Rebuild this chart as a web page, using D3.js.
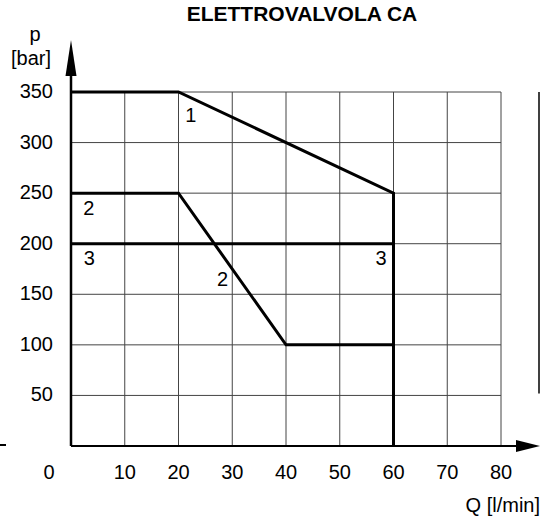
<!DOCTYPE html>
<html>
<head>
<meta charset="utf-8">
<script src="https://cdn.jsdelivr.net/npm/d3@7"></script>
<style>
  body { margin: 0; background: #fff; }
  text { font-family: "Liberation Sans", Arial, sans-serif; fill: #000; }
</style>
</head>
<body>
<svg id="chart" width="540" height="519"></svg>
<script>
// chart values
const xTicks = [10, 20, 30, 40, 50, 60, 70, 80]
const yTicks = [50, 100, 150, 200, 250, 300, 350]
const curve1 = [{q: 0, p: 350}, {q: 20, p: 350}, {q: 60, p: 250}, {q: 60, p: 0}]
const curve2 = [{q: 0, p: 250}, {q: 20, p: 250}, {q: 40, p: 100}, {q: 60, p: 100}]
const curve3 = [{q: 0, p: 200}, {q: 60, p: 200}, {q: 60, p: 0}]
const curveLabels = [
  {t: "1", q: 22.3, p: 320},
  {t: "2", q: 3.3, p: 228},
  {t: "3", q: 3.4, p: 179},
  {t: "2", q: 28.2, p: 158},
  {t: "3", q: 57.7, p: 179}
]

const svg = d3.select("#chart")
const x = d3.scaleLinear().domain([0, 80]).range([71, 501])
const y = d3.scaleLinear().domain([0, 350]).range([446, 92])
const fs = "20px"

// title
svg.append("text").attr("x", 302).attr("y", 21).attr("text-anchor", "middle")
  .style("font-size", "21px").style("font-weight", "bold").text("ELETTROVALVOLA CA")

// grid
const grid = svg.append("g").attr("stroke", "#444").attr("stroke-width", 1)
grid.selectAll(".h").data(yTicks).join("line")
  .attr("x1", x(0)).attr("x2", x(80)).attr("y1", d => y(d)).attr("y2", d => y(d))
grid.selectAll(".v").data(xTicks).join("line")
  .attr("x1", d => x(d)).attr("x2", d => x(d)).attr("y1", y(0)).attr("y2", y(350))

// stray line on the right
svg.append("line").attr("x1", 539).attr("x2", 539).attr("y1", y(350)).attr("y2", y(52))
  .attr("stroke", "#000").attr("stroke-width", 1.5)

// axes with arrows
svg.append("line").attr("x1", x(0)).attr("x2", x(0)).attr("y1", y(0)).attr("y2", 75)
  .attr("stroke", "#000").attr("stroke-width", 2.5)
svg.append("path").attr("d", `M${x(0)},40 L${x(0) - 5.5},76 L${x(0) + 5.5},76 Z`).attr("fill", "#000")
svg.append("line").attr("x1", x(0)).attr("x2", 517).attr("y1", y(0)).attr("y2", y(0))
  .attr("stroke", "#000").attr("stroke-width", 2)
svg.append("path").attr("d", `M540,${y(0)} L516,${y(0) - 6} L516,${y(0) + 6} Z`).attr("fill", "#000")
svg.append("line").attr("x1", 0).attr("x2", 6).attr("y1", y(0) - 1).attr("y2", y(0) - 1)
  .attr("stroke", "#000").attr("stroke-width", 2)

// curves
const line = d3.line().x(d => x(d.q)).y(d => y(d.p))
svg.selectAll(".curve").data([curve3, curve2, curve1]).join("path")
  .attr("d", line).attr("fill", "none").attr("stroke", "#000")
  .attr("stroke-width", 3).attr("stroke-linejoin", "miter")

svg.selectAll(".clab").data(curveLabels).join("text")
  .attr("x", d => x(d.q)).attr("y", d => y(d.p)).attr("text-anchor", "middle")
  .style("font-size", fs).text(d => d.t)

// tick labels
svg.selectAll(".yt").data(yTicks).join("text")
  .attr("x", 53).attr("y", d => y(d) + 6).attr("text-anchor", "end")
  .style("font-size", fs).text(d => d)
svg.selectAll(".xt").data(xTicks).join("text")
  .attr("x", d => x(d)).attr("y", 479).attr("text-anchor", "middle")
  .style("font-size", fs).text(d => d)
svg.append("text").attr("x", x(0) - 22).attr("y", 479).attr("text-anchor", "middle")
  .style("font-size", fs).text("0")

// axis titles
svg.append("text").attr("x", 35).attr("y", 41).attr("text-anchor", "middle")
  .style("font-size", fs).text("p")
svg.append("text").attr("x", 31).attr("y", 65).attr("text-anchor", "middle")
  .style("font-size", fs).text("[bar]")
svg.append("text").attr("x", 540).attr("y", 512).attr("text-anchor", "end")
  .style("font-size", fs).text("Q [l/min]")
</script>
</body>
</html>
